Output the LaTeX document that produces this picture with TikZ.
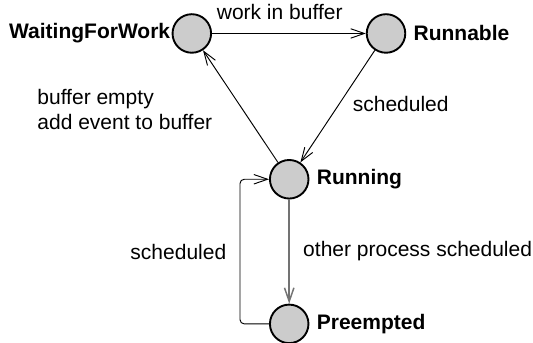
\documentclass[tikz,border=0pt]{standalone}
\usepackage{fontspec}
\setmainfont{Liberation Sans}
\usetikzlibrary{arrows.meta}

\begin{document}
\begin{tikzpicture}

\tikzset{vertex/.style = {shape=circle,draw,line width=0.9pt,fill=gray!40,minimum size=0.645cm,inner sep=0pt}}
\tikzset{edge/.style = {-{Straight Barb[length=6.5pt,width=4.5pt]},line width=0.45pt}}
\useasboundingbox (0,0) rectangle (8.92,-5.74);
%verticies
\node[vertex, label={[inner sep=0.5pt]left:\bfseries WaitingForWork}] (wait) at (3.21,-0.56) {};
\node[vertex, label={right:\bfseries Runnable}] (runnable) at (6.46,-0.56) {};
\node[vertex, label={right:\bfseries Running}] (running) at (4.84,-3.0) {};
\node[vertex, label={right:\bfseries Preempted}] (preempted) at (4.84,-5.42) {};
%edges
\draw [edge] (wait) -- (runnable) node [pos=0.44, above=3pt] {work in buffer};
\draw [edge] (runnable) -- (running) node [pos=0.48, right=3pt] {scheduled};
\draw [edge] (running) -- (wait) node [pos=0.47, left=11pt, align=left] {buffer empty\\add event to buffer};
\draw [edge, draw=black!55, line width=0.7pt] (running) -- (preempted) node [midway, right=3pt, text=black] {other process scheduled};
\draw [edge, rounded corners=2pt] (preempted.west) -- ++(-0.485,0) |- (running.west) node [pos=0.25, left=3pt] {scheduled};

\end{tikzpicture}
\end{document}
